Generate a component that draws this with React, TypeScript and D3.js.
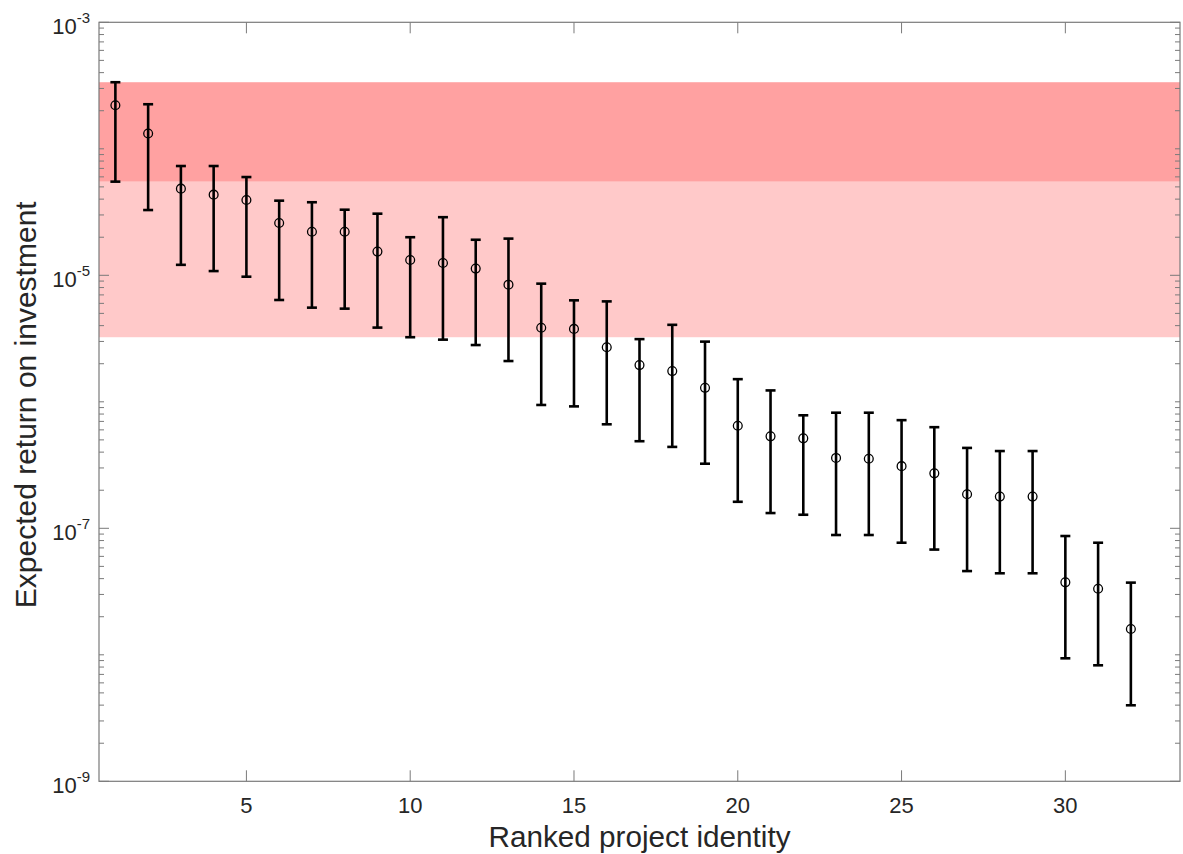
import React from "react";
import * as d3 from "d3";

// Ranked project identity (x)
const ranks = d3.range(1, 33);
// Expected return on investment (central estimate)
const centers = [
  2.21e-4, 1.32e-4, 4.84e-5, 4.34e-5, 3.94e-5, 2.59e-5, 2.21e-5, 2.21e-5,
  1.54e-5, 1.32e-5, 1.25e-5, 1.13e-5, 8.43e-6, 3.85e-6, 3.77e-6, 2.7e-6,
  1.95e-6, 1.75e-6, 1.29e-6, 6.47e-7, 5.33e-7, 5.14e-7, 3.6e-7, 3.55e-7,
  3.1e-7, 2.72e-7, 1.86e-7, 1.78e-7, 1.78e-7, 3.74e-8, 3.33e-8, 1.6e-8,
];
// Upper ends of error bars
const uppers = [
  3.36e-4, 2.25e-4, 7.31e-5, 7.31e-5, 5.98e-5, 3.89e-5, 3.78e-5, 3.3e-5,
  3.07e-5, 2.0e-5, 2.88e-5, 1.91e-5, 1.95e-5, 8.59e-6, 6.34e-6, 6.22e-6,
  3.13e-6, 4.06e-6, 2.99e-6, 1.51e-6, 1.23e-6, 7.82e-7, 8.2e-7, 8.2e-7,
  7.16e-7, 6.3e-7, 4.32e-7, 4.08e-7, 4.08e-7, 8.69e-8, 7.69e-8, 3.72e-8,
];
// Lower ends of error bars
const lowers = [
  5.5e-5, 3.28e-5, 1.21e-5, 1.08e-5, 9.75e-6, 6.38e-6, 5.55e-6, 5.45e-6,
  3.86e-6, 3.24e-6, 3.1e-6, 2.81e-6, 2.1e-6, 9.44e-7, 9.2e-7, 6.64e-7,
  4.88e-7, 4.4e-7, 3.24e-7, 1.62e-7, 1.32e-7, 1.28e-7, 8.85e-8, 8.85e-8,
  7.69e-8, 6.79e-8, 4.59e-8, 4.41e-8, 4.41e-8, 9.38e-9, 8.26e-9, 3.99e-9,
];
// Shaded bands [low, high]
const bandLows = [3.24e-6, 5.5e-5];
const bandHighs = [5.5e-5, 3.36e-4];
const bandColors = ["#ffc9c9", "#ffa1a1"];

const xTicks = [5, 10, 15, 20, 25, 30];
const yLabelExps = [-3, -5, -7, -9];
const xDomain = [0.5, 33.5];
const yDomain = [1e-9, 1e-3];

export default function App() {
  const W = 1183, H = 854;
  const L = 99, R = 1180, T = 22.3, B = 781.3;
  const x = d3.scaleLinear().domain(xDomain).range([L, R]);
  const y = d3.scaleLog().domain(yDomain).range([B, T]);
  const axisCol = "#7a7a7a";
  const textCol = "#262626";
  const font = "'Liberation Sans', Arial, Helvetica, sans-serif";

  const minorTicks: number[] = [];
  for (let e = -9; e < -3; e++) {
    for (let m = 1; m <= 9; m++) minorTicks.push(m * Math.pow(10, e));
  }
  minorTicks.push(1e-3);

  return (
    <svg width={W} height={H} style={{ position: "absolute", left: 0, top: 0, background: "#fff" }} fontFamily={font}>
      {bandLows.map((lo, i) => (
        <rect key={"b" + i} x={L} width={R - L} y={y(bandHighs[i])} height={y(lo) - y(bandHighs[i])} fill={bandColors[i]} />
      ))}
      {/* y ticks */}
      {minorTicks.map((v, i) => {
        const exp = Math.round(Math.log10(v));
        const isMajor = Math.abs(v - Math.pow(10, exp)) / v < 1e-9 && yLabelExps.includes(exp);
        const len = isMajor ? 10 : 5;
        return (
          <g key={"yt" + i} stroke={axisCol} strokeWidth={1}>
            <line x1={L} x2={L + len} y1={y(v)} y2={y(v)} />
            <line x1={R} x2={R - len} y1={y(v)} y2={y(v)} />
          </g>
        );
      })}
      {xTicks.map((t) => (
        <g key={"xt" + t} stroke={axisCol} strokeWidth={1}>
          <line x1={x(t)} x2={x(t)} y1={B} y2={B - 11} />
          <line x1={x(t)} x2={x(t)} y1={T} y2={T + 11} />
        </g>
      ))}
      <rect x={L} y={T} width={R - L} height={B - T} fill="none" stroke={axisCol} strokeWidth={1.2} />
      {/* error bars */}
      {ranks.map((r, i) => {
        const cx = x(r);
        const cw = 5;
        return (
          <g key={"e" + i} stroke="#000" strokeWidth={2.6}>
            <line x1={cx} x2={cx} y1={y(uppers[i])} y2={y(lowers[i])} />
            <line x1={cx - cw} x2={cx + cw} y1={y(uppers[i])} y2={y(uppers[i])} />
            <line x1={cx - cw} x2={cx + cw} y1={y(lowers[i])} y2={y(lowers[i])} />
          </g>
        );
      })}
      {ranks.map((r, i) => (
        <circle key={"c" + i} cx={x(r)} cy={y(centers[i])} r={4.4} fill="none" stroke="#000" strokeWidth={1.3} />
      ))}
      {/* x tick labels */}
      {xTicks.map((t) => (
        <text key={"xl" + t} x={x(t)} y={B + 31.5} textAnchor="middle" fontSize={22} fill={textCol}>
          {t}
        </text>
      ))}
      {/* y tick labels */}
      {yLabelExps.map((e) => (
        <text key={"yl" + e} x={L - 9} y={y(Math.pow(10, e)) + 11.5} textAnchor="end" fontSize={22} fill={textCol}>
          10
          <tspan dy={-11} fontSize={15}>{e}</tspan>
        </text>
      ))}
      <text x={(L + R) / 2} y={846.5} textAnchor="middle" fontSize={29.7} fill={textCol}>
        Ranked project identity
      </text>
      <text transform={`translate(36, ${(T + B) / 2 + 3}) rotate(-90)`} textAnchor="middle" fontSize={30} fill={textCol}>
        Expected return on investment
      </text>
    </svg>
  );
}
